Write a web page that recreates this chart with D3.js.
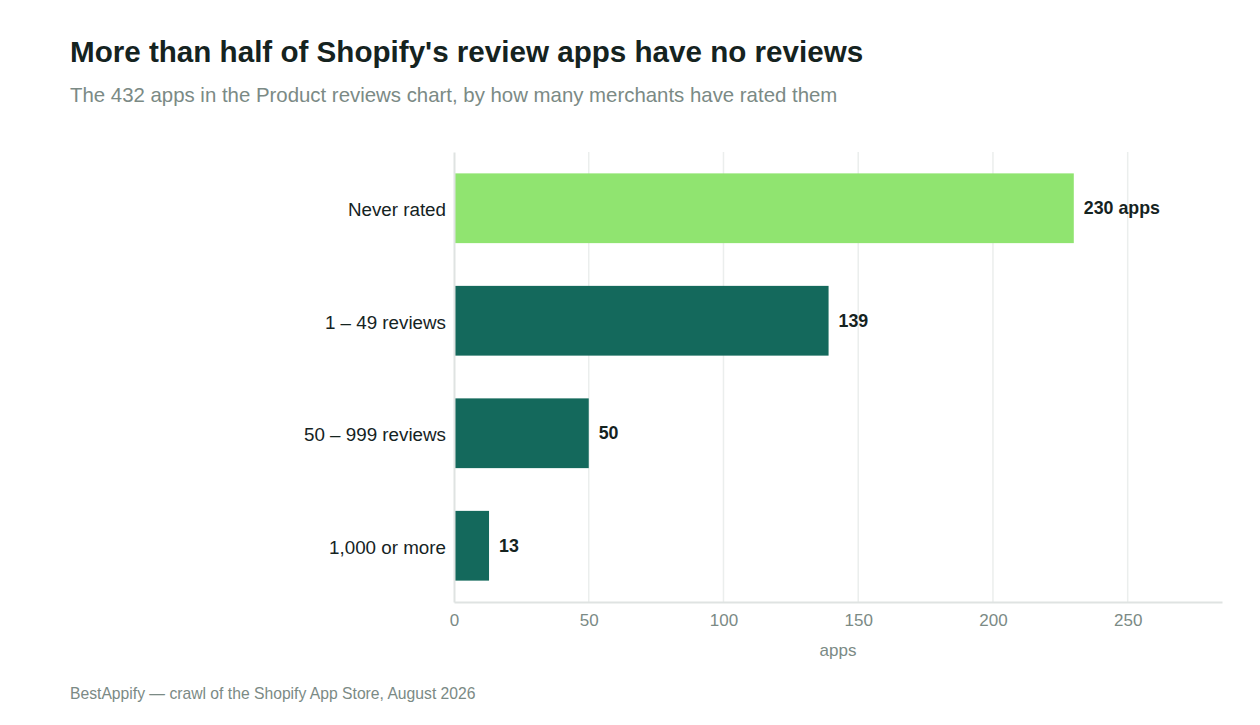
<!DOCTYPE html>
<html>
<head>
<meta charset="utf-8">
<script src="https://cdn.jsdelivr.net/npm/d3@7"></script>
<style>
  body { margin: 0; background: #fff; }
  svg text { font-family: "Liberation Sans", Arial, sans-serif; }
</style>
</head>
<body>
<svg id="chart" width="1260" height="725"></svg>
<script>
var categories = ["Never rated", "1 – 49 reviews", "50 – 999 reviews", "1,000 or more"];
var app_counts = [230, 139, 50, 13];
var value_labels = ["230 apps", "139", "50", "13"];
var highlight = [true, false, false, false];
var x_ticks = [0, 50, 100, 150, 200, 250];

var width = 1260, height = 725;
var margin = { top: 152, right: 38, bottom: 123, left: 454 };

var svg = d3.select('#chart');

svg.append('text')
  .attr('x', 70).attr('y', 62)
  .attr('font-size', 29.6).attr('font-weight', 'bold')
  .attr('fill', '#15231f')
  .text("More than half of Shopify's review apps have no reviews");

svg.append('text')
  .attr('x', 70).attr('y', 102)
  .attr('font-size', 20.4)
  .attr('fill', '#7b8a85')
  .text("The 432 apps in the Product reviews chart, by how many merchants have rated them");

var x = d3.scaleLinear()
  .domain([0, 285])
  .range([margin.left, width - margin.right]);

var y = d3.scaleBand()
  .domain(categories)
  .range([margin.top, height - margin.bottom])
  .paddingInner(0.38)
  .paddingOuter(0.19);

// gridlines
svg.append('g')
  .selectAll('line')
  .data(x_ticks.slice(1))
  .join('line')
  .attr('x1', d => x(d)).attr('x2', d => x(d))
  .attr('y1', margin.top).attr('y2', height - margin.bottom)
  .attr('stroke', '#ebeeed').attr('stroke-width', 1.5);

// bars
svg.append('g')
  .selectAll('rect')
  .data(categories)
  .join('rect')
  .attr('x', x(0))
  .attr('y', d => y(d))
  .attr('height', y.bandwidth())
  .attr('width', (d, i) => x(app_counts[i]) - x(0))
  .attr('fill', (d, i) => highlight[i] ? '#90e470' : '#14695c');

// value labels
svg.append('g')
  .selectAll('text')
  .data(categories)
  .join('text')
  .attr('x', (d, i) => x(app_counts[i]) + 10)
  .attr('y', d => y(d) + y.bandwidth() / 2)
  .attr('dy', '0.35em')
  .attr('font-size', 17.8).attr('font-weight', 'bold')
  .attr('fill', '#15231f')
  .text((d, i) => value_labels[i]);

// y axis
var y_axis = svg.append('g')
  .attr('transform', 'translate(' + margin.left + ',0)')
  .call(d3.axisLeft(y).tickSize(0).tickPadding(8));
y_axis.select('.domain').attr('stroke', '#dfe3e2').attr('stroke-width', 2);
y_axis.selectAll('text')
  .attr('font-size', 18.8).attr('fill', '#15231f').attr('dy', '0.42em');

// x axis
var x_axis = svg.append('g')
  .attr('transform', 'translate(0,' + (height - margin.bottom) + ')')
  .call(d3.axisBottom(x).tickValues(x_ticks).tickSize(0).tickPadding(12));
x_axis.select('.domain').attr('stroke', '#dfe3e2').attr('stroke-width', 2);
x_axis.selectAll('text')
  .attr('font-size', 17).attr('fill', '#7b8a85');

svg.append('text')
  .attr('x', (x.range()[0] + x.range()[1]) / 2)
  .attr('y', 656)
  .attr('text-anchor', 'middle')
  .attr('font-size', 17).attr('fill', '#7b8a85')
  .text('apps');

svg.append('text')
  .attr('x', 70).attr('y', 699)
  .attr('font-size', 15.7).attr('fill', '#7b8a85')
  .text('BestAppify — crawl of the Shopify App Store, August 2026');
</script>
</body>
</html>
